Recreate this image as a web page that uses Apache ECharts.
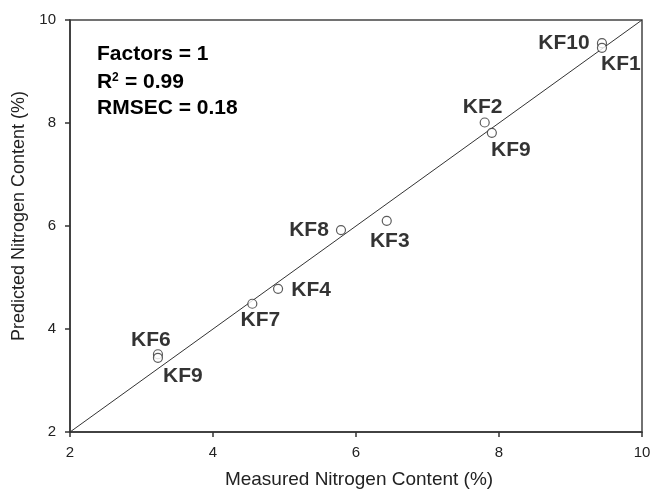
<!DOCTYPE html>
<html>
<head>
<meta charset="utf-8">
<script src="https://cdn.jsdelivr.net/npm/echarts@6/dist/echarts.min.js"></script>
<style>
html,body{margin:0;padding:0;background:#fff;}
#c{width:652px;height:489px;}
</style>
</head>
<body>
<div id="c"></div>
<script>
// ---- data ----
const sampleNames = ['KF10','KF1','KF2','KF9','KF8','KF3','KF4','KF7','KF6','KF9'];
const measured    = [9.44, 9.44, 7.80, 7.90, 5.79, 6.43, 4.91, 4.55, 3.23, 3.23];
const predicted   = [9.55, 9.46, 8.01, 7.81, 5.92, 6.10, 4.78, 4.49, 3.51, 3.44];
const refLineX = [2, 10];
const refLineY = [2, 10];
const xTicks = [2, 4, 6, 8, 10];
const yTicks = [2, 4, 6, 8, 10];
const statLines = ['Factors = 1', 'R', '2', '= 0.99', 'RMSEC = 0.18'];
const xName = 'Measured Nitrogen Content (%)';
const yName = 'Predicted Nitrogen Content (%)';

// ---- label layout (styling only) ----
const labelOffsets = [[-38,0],[19,16],[-2,-15],[19,17],[-32,0],[3,20],[33,1],[8,16],[-7,-14],[25,18]];

const FONT = '"Liberation Sans", Arial, Helvetica, sans-serif';
const chart = echarts.init(document.getElementById('c'), null, {renderer:'canvas'});

const scatterData = sampleNames.map((n,i)=>({
  name: n,
  value: [measured[i], predicted[i]],
  label: {offset: labelOffsets[i]}
}));

chart.setOption({
  animation: false,
  backgroundColor: '#fff',
  grid: {left: 70, right: 10, top: 20, bottom: 57, containLabel: false, outerBoundsMode: 'none',
         show: true, borderColor: '#444', borderWidth: 1.5, backgroundColor: 'transparent'},
  xAxis: {
    type: 'value', min: xTicks[0], max: xTicks[xTicks.length-1], interval: 2,
    axisLine: {show: true, lineStyle: {color: '#333', width: 1.5}},
    axisTick: {show: true, inside: false, length: 5, lineStyle: {color: '#333', width: 1.5}},
    axisLabel: {fontFamily: FONT, fontSize: 15, color: '#222', margin: 13},
    splitLine: {show: false}
  },
  yAxis: {
    type: 'value', min: yTicks[0], max: yTicks[yTicks.length-1], interval: 2,
    axisLine: {show: true, lineStyle: {color: '#333', width: 1.5}},
    axisTick: {show: true, inside: false, length: 5, lineStyle: {color: '#333', width: 1.5}},
    axisLabel: {fontFamily: FONT, fontSize: 15, color: '#222', margin: 14},
    splitLine: {show: false}
  },
  series: [
    {
      type: 'line',
      data: refLineX.map((x,i)=>[x, refLineY[i]]),
      symbol: 'none',
      lineStyle: {color: '#333', width: 1},
      silent: true, z: 1
    },
    {
      type: 'scatter',
      data: scatterData,
      symbol: 'circle',
      symbolSize: 9,
      itemStyle: {color: '#fff', borderColor: '#333', borderWidth: 1.2},
      label: {
        show: true, position: 'inside', formatter: '{b}',
        fontFamily: FONT, fontSize: 21, fontWeight: 'bold', color: '#000',
        textBorderWidth: 0
      },
      z: 3
    }
  ],
  graphic: [
    {type:'text', x: 19, y: 216, rotation: Math.PI/2,
     style:{text: yName, font: '18px '+FONT, fill:'#222', textAlign:'center', textVerticalAlign:'middle'}},
    {type:'text', x: 359, y: 480,
     style:{text: xName, font: '19px '+FONT, fill:'#222', textAlign:'center', textVerticalAlign:'middle'}},
    {type:'text', left: 97, top: 44, style:{text: statLines[0], font: 'bold 21px '+FONT, fill:'#000'}},
    {type:'text', left: 97, top: 72, style:{text: statLines[1], font: 'bold 21px '+FONT, fill:'#000'}},
    {type:'text', left: 112, top: 72, style:{text: statLines[2], font: 'bold 12px '+FONT, fill:'#000'}},
    {type:'text', left: 125, top: 72, style:{text: statLines[3], font: 'bold 21px '+FONT, fill:'#000'}},
    {type:'text', left: 97, top: 98, style:{text: statLines[4], font: 'bold 21px '+FONT, fill:'#000'}}
  ]
});
</script>
</body>
</html>
